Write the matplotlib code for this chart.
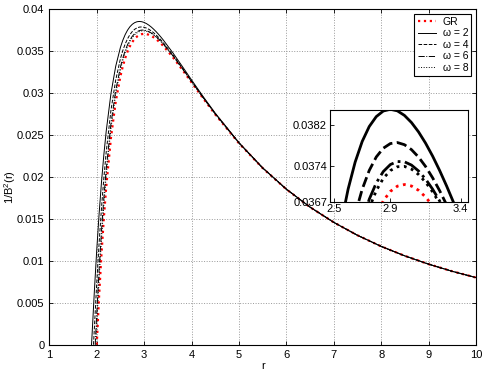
import numpy as np
import matplotlib
matplotlib.use("Agg")
import matplotlib.pyplot as plt

plt.rcParams['font.family'] = ['Liberation Sans', 'DejaVu Sans']
plt.rcParams['mathtext.default'] = 'regular'

# r values shared by all curves from r = 2 on
r_grid = [2.0, 2.05, 2.1, 2.15, 2.2, 2.3, 2.4, 2.5, 2.55, 2.6, 2.65, 2.7, 2.75, 2.8, 2.85, 2.9,
          2.95, 3.0, 3.05, 3.1, 3.15, 3.2, 3.25, 3.3, 3.35, 3.4, 3.6, 3.8, 4.0, 4.25, 4.5, 5.0,
          5.5, 6.0, 6.5, 7.0, 7.5, 8.0, 8.5, 9.0, 9.5, 10.0]

gr = [0.0, 0.005804, 0.010798, 0.015093, 0.018783, 0.024657, 0.028935, 0.032000, 0.033170, 0.034137,
      0.034928, 0.035564, 0.036063, 0.036443, 0.036718, 0.036902, 0.037005, 0.037037, 0.037008, 0.036924,
      0.036793, 0.036621, 0.036413, 0.036174, 0.035909, 0.035620, 0.034294, 0.032804, 0.031250, 0.029310,
      0.027435, 0.024000, 0.021037, 0.018519, 0.016386, 0.014577, 0.013037, 0.011719, 0.010584, 0.009602,
      0.008748, 0.008000]

w2_r0 = [1.89, 1.90, 1.95]
w2_v0 = [0.0, 0.001016, 0.006369]
w2 = [0.011263, 0.015584, 0.019354, 0.022623, 0.025442, 0.029929, 0.033164, 0.035430, 0.036270, 0.036946,
      0.037477, 0.037882, 0.038175, 0.038370, 0.038480, 0.038514, 0.038483, 0.038394, 0.038254, 0.038071,
      0.037850, 0.037596, 0.037313, 0.037006, 0.036678, 0.036332, 0.034822, 0.033200, 0.031550, 0.029524,
      0.027589, 0.024081, 0.021079, 0.018539, 0.016394, 0.014579, 0.013035, 0.011714, 0.010579, 0.009596,
      0.008742, 0.007994]

w4_r0 = [1.932, 1.95]
w4_v0 = [0.0, 0.001980]
w4 = [0.007338, 0.012098, 0.016254, 0.019857, 0.022968, 0.027929, 0.031531, 0.034084, 0.035043, 0.035826,
      0.036453, 0.036943, 0.037313, 0.037578, 0.037750, 0.037841, 0.037861, 0.037819, 0.037722, 0.037577,
      0.037392, 0.037170, 0.036917, 0.036637, 0.036334, 0.036011, 0.034575, 0.033008, 0.031399, 0.029410,
      0.027502, 0.024028, 0.021046, 0.018518, 0.016380, 0.014569, 0.013028, 0.011710, 0.010576, 0.009594,
      0.008740, 0.007993]

w6_r0 = [1.968]
w6_v0 = [0.0]
w6 = [0.003709, 0.008974, 0.013550, 0.017504, 0.020910, 0.026338, 0.030285, 0.033098, 0.034164, 0.035040,
      0.035749, 0.036312, 0.036747, 0.037069, 0.037292, 0.037429, 0.037489, 0.037483, 0.037419, 0.037304,
      0.037145, 0.036947, 0.036715, 0.036455, 0.036169, 0.035862, 0.034477, 0.032944, 0.031359, 0.029391,
      0.027495, 0.024035, 0.021058, 0.018531, 0.016394, 0.014582, 0.013040, 0.011721, 0.010585, 0.009603,
      0.008748, 0.008000]

w8_r0 = [1.981]
w8_v0 = [0.0]
w8 = [0.002282, 0.007779, 0.012537, 0.016638, 0.020164, 0.025778, 0.029859, 0.032771, 0.033877, 0.034787,
      0.035527, 0.036117, 0.036575, 0.036917, 0.037159, 0.037311, 0.037386, 0.037393, 0.037340, 0.037235,
      0.037084, 0.036894, 0.036670, 0.036415, 0.036135, 0.035833, 0.034464, 0.032941, 0.031362, 0.029399,
      0.027506, 0.024048, 0.021070, 0.018543, 0.016404, 0.014591, 0.013048, 0.011727, 0.010591, 0.009608,
      0.008752, 0.008004]

curves = [
    ("GR", r_grid, gr, dict(color="red", ls=":", lw=1.6)),
    ("ω = 2", w2_r0 + r_grid, w2_v0 + w2, dict(color="k", ls="-", lw=0.7)),
    ("ω = 4", w4_r0 + r_grid, w4_v0 + w4, dict(color="k", ls="--", lw=0.7)),
    ("ω = 6", w6_r0 + r_grid, w6_v0 + w6, dict(color="k", ls="-.", lw=0.7)),
    ("ω = 8", w8_r0 + r_grid, w8_v0 + w8, dict(color="k", ls=":", lw=0.7)),
]

fig = plt.figure(figsize=(4.85, 3.74), dpi=100)
ax = fig.add_axes([0.1017, 0.0783, 0.8797, 0.8977])
for name, rr, vv, st in curves:
    ax.plot(rr, vv, label=name, **st)

ax.set_xlim(1, 10)
ax.set_ylim(0, 0.04)
ax.set_xticks(range(1, 11))
yt = [0, 0.005, 0.01, 0.015, 0.02, 0.025, 0.03, 0.035, 0.04]
ax.set_yticks(yt)
ax.set_yticklabels(["0", "0.005", "0.01", "0.015", "0.02", "0.025", "0.03", "0.035", "0.04"])
ax.tick_params(direction="in", top=True, right=True, labelsize=8, length=3, width=0.6)
ax.grid(True, ls=":", color="0.6", lw=0.7)
for s in ax.spines.values():
    s.set_linewidth(0.8)
ax.set_xlabel("r", fontsize=8, labelpad=1)
ax.set_ylabel("1/B$^2$(r)", fontsize=8)
ax.yaxis.set_label_coords(-0.074, 0.47)

leg = ax.legend(loc="upper right", fontsize=7.5, handlelength=1.8, fancybox=False,
                edgecolor="k", framealpha=1, borderpad=0.3, labelspacing=0.15,
                handletextpad=0.6, borderaxespad=0.45)
leg.get_frame().set_linewidth(0.8)

# inset near the maxima
ins = fig.add_axes([0.680, 0.4607, 0.2845, 0.2452])
for name, rr, vv, st in curves:
    st2 = dict(st)
    st2["lw"] = 2.0
    ins.plot(rr, vv, **st2)
ins.set_xlim(2.47, 3.45)
ins.set_ylim(0.0367, 0.0385)
ins.set_xticks([2.5, 2.9, 3.4])
ins.set_xticklabels(["2.5", "2.9", "3.4"])
ins.set_yticks([0.0367, 0.0374, 0.0382])
ins.set_yticklabels(["0.0367", "0.0374", "0.0382"])
ins.tick_params(direction="in", labelsize=8, length=3, width=0.6, pad=2)
for s in ins.spines.values():
    s.set_linewidth(0.8)

fig.savefig("out.png", dpi=100)
